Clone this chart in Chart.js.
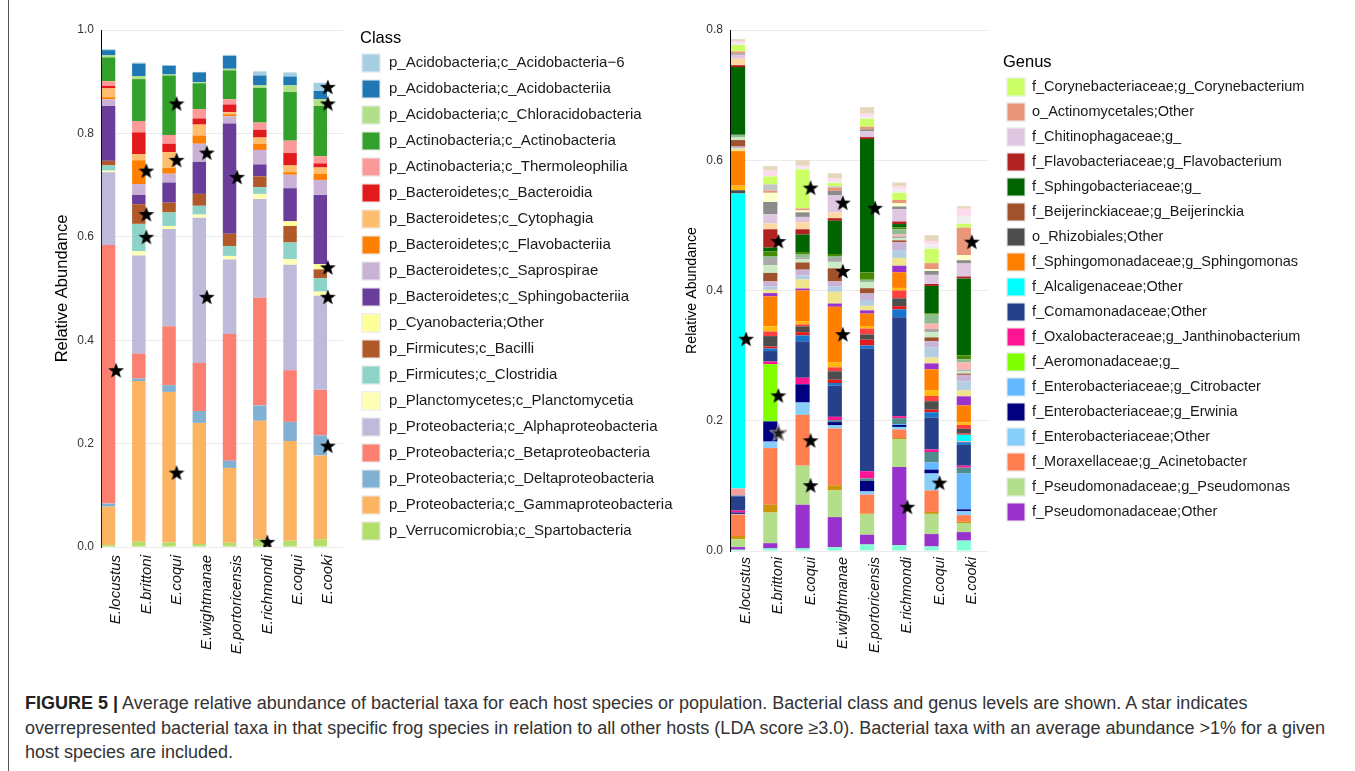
<!DOCTYPE html>
<html>
<head>
<meta charset="utf-8">
<script src="https://cdn.jsdelivr.net/npm/chart.js@4.4.1/dist/chart.umd.min.js"></script>
<style>
  html, body { margin: 0; padding: 0; background: #fff; }
  body { width: 1355px; height: 771px; position: relative; overflow: hidden;
         font-family: "Liberation Sans", Arial, Helvetica, sans-serif; }
  #classCanvas { position: absolute; left: 0; top: 0; }
  #genusCanvas { position: absolute; left: 670px; top: 0; }
  .frame-left { position: absolute; left: 8px; top: 0; width: 1px; height: 771px; background: #555; }
  .caption { position: absolute; left: 25px; top: 691px; font-size: 18px; line-height: 24.5px;
             color: #333; white-space: nowrap; }
  .caption b { color: #222; }
</style>
</head>
<body>
<div class="frame-left"></div>
<canvas id="classCanvas" width="690" height="660"></canvas>
<canvas id="genusCanvas" width="685" height="660"></canvas>
<div class="caption">
  <b>FIGURE 5 |</b> Average relative abundance of bacterial taxa for each host species or population. Bacterial class and genus levels are shown. A star indicates<br>
  overrepresented bacterial taxa in that specific frog species in relation to all other hosts (LDA score ≥3.0). Bacterial taxa with an average abundance &gt;1% for a given<br>
  host species are included.
</div>

<script>
// ---------- hosts ----------
const hosts = ['E.locustus', 'E.brittoni', 'E.coqui', 'E.wightmanae', 'E.portoricensis', 'E.richmondi', 'E.coqui', 'E.cooki'];

// ---------- class level (stack order, bottom to top) ----------
const spartobacteria       = [0.004, 0.010, 0.009, 0.006, 0.008, 0.015, 0.012, 0.015];
const gammaproteobacteria  = [0.074, 0.311, 0.291, 0.234, 0.145, 0.229, 0.193, 0.162];
const deltaproteobacteria  = [0.006, 0.005, 0.013, 0.023, 0.014, 0.030, 0.037, 0.039];
const betaproteobacteria   = [0.500, 0.048, 0.114, 0.093, 0.245, 0.208, 0.100, 0.088];
const alphaproteobacteria  = [0.141, 0.190, 0.188, 0.281, 0.144, 0.191, 0.204, 0.182];
const planctomycetia       = [0.003, 0.008, 0.006, 0.006, 0.007, 0.010, 0.011, 0.008];
const clostridia           = [0.010, 0.053, 0.026, 0.017, 0.019, 0.013, 0.032, 0.026];
const bacilli              = [0.009, 0.038, 0.019, 0.023, 0.024, 0.021, 0.032, 0.017];
const cyanobacteriaOther   = [0.000, 0.000, 0.000, 0.000, 0.000, 0.000, 0.009, 0.010];
const sphingobacteriia     = [0.106, 0.018, 0.039, 0.062, 0.213, 0.023, 0.064, 0.134];
const saprospirae          = [0.013, 0.021, 0.017, 0.035, 0.014, 0.028, 0.026, 0.029];
const flavobacteriia       = [0.004, 0.046, 0.011, 0.016, 0.004, 0.012, 0.005, 0.012];
const cytophagia           = [0.017, 0.012, 0.031, 0.021, 0.004, 0.012, 0.013, 0.012];
const bacteroidia          = [0.005, 0.042, 0.016, 0.012, 0.015, 0.015, 0.024, 0.008];
const thermoleophilia      = [0.009, 0.022, 0.017, 0.018, 0.010, 0.014, 0.024, 0.014];
const actinobacteria       = [0.046, 0.081, 0.115, 0.050, 0.056, 0.067, 0.094, 0.097];
const chloracidobacteria   = [0.004, 0.006, 0.002, 0.002, 0.003, 0.005, 0.013, 0.013];
const acidobacteriia       = [0.010, 0.024, 0.017, 0.019, 0.025, 0.019, 0.017, 0.016];
const acidobacteria6       = [0.002, 0.002, 0.001, 0.001, 0.002, 0.008, 0.008, 0.016];

const classNames = [
  'p_Verrucomicrobia;c_Spartobacteria',
  'p_Proteobacteria;c_Gammaproteobacteria',
  'p_Proteobacteria;c_Deltaproteobacteria',
  'p_Proteobacteria;c_Betaproteobacteria',
  'p_Proteobacteria;c_Alphaproteobacteria',
  'p_Planctomycetes;c_Planctomycetia',
  'p_Firmicutes;c_Clostridia',
  'p_Firmicutes;c_Bacilli',
  'p_Cyanobacteria;Other',
  'p_Bacteroidetes;c_Sphingobacteriia',
  'p_Bacteroidetes;c_Saprospirae',
  'p_Bacteroidetes;c_Flavobacteriia',
  'p_Bacteroidetes;c_Cytophagia',
  'p_Bacteroidetes;c_Bacteroidia',
  'p_Actinobacteria;c_Thermoleophilia',
  'p_Actinobacteria;c_Actinobacteria',
  'p_Acidobacteria;c_Chloracidobacteria',
  'p_Acidobacteria;c_Acidobacteriia',
  'p_Acidobacteria;c_Acidobacteria\u22126'
];
const classValues = [spartobacteria, gammaproteobacteria, deltaproteobacteria, betaproteobacteria,
  alphaproteobacteria, planctomycetia, clostridia, bacilli, cyanobacteriaOther, sphingobacteriia,
  saprospirae, flavobacteriia, cytophagia, bacteroidia, thermoleophilia, actinobacteria,
  chloracidobacteria, acidobacteriia, acidobacteria6];
const classColors = ['#b3de69', '#fdb462', '#80b1d3', '#fb8072', '#bebada', '#ffffb3', '#8dd3c7',
  '#b15928', '#ffff99', '#6a3d9a', '#cab2d6', '#ff7f00', '#fdbf6f', '#e31a1c', '#fb9a99',
  '#33a02c', '#b2df8a', '#1f78b4', '#a6cee3'];

// LDA-enriched class markers (host index, relative abundance)
const classStarHost = [0, 1, 1, 1, 2, 2, 2, 3, 3, 4, 5, 7, 7, 7, 7, 7];
const classStarY    = [0.342, 0.728, 0.644, 0.600, 0.858, 0.749, 0.144, 0.763, 0.484, 0.716, 0.010,
                       0.890, 0.858, 0.541, 0.484, 0.196];

// ---------- genus level (stack order, bottom to top) ----------
const taxonAqua          = [0.002, 0.004, 0.004, 0.006, 0.010, 0.009, 0.007, 0.016];
const pseudomonadOther   = [0.004, 0.008, 0.067, 0.046, 0.015, 0.120, 0.019, 0.013];
const pseudomonas        = [0.012, 0.047, 0.060, 0.041, 0.031, 0.043, 0.031, 0.014];
const taxonGoldenrod     = [0.005, 0.012, 0.000, 0.008, 0.0015, 0.0015, 0.003, 0.002];
const acinetobacter      = [0.033, 0.087, 0.078, 0.087, 0.029, 0.013, 0.033, 0.010];
const enteroOther        = [0.001, 0.010, 0.019, 0.005, 0.005, 0.004, 0.026, 0.006];
const erwinia            = [0.002, 0.031, 0.028, 0.005, 0.016, 0.003, 0.006, 0.003];
const citrobacter        = [0.000, 0.000, 0.000, 0.000, 0.000, 0.0015, 0.011, 0.055];
const aeromonadaceae     = [0.000, 0.088, 0.000, 0.000, 0.000, 0.000, 0.000, 0.000];
const taxonTeal          = [0.000, 0.000, 0.000, 0.003, 0.004, 0.009, 0.016, 0.009];
const janthinobacterium  = [0.003, 0.004, 0.010, 0.005, 0.011, 0.003, 0.004, 0.003];
const comamonadOther     = [0.022, 0.016, 0.056, 0.048, 0.188, 0.152, 0.049, 0.032];
const taxonBlue          = [0.001, 0.004, 0.009, 0.004, 0.005, 0.012, 0.008, 0.004];
const taxonRose          = [0.011, 0.000, 0.000, 0.000, 0.000, 0.000, 0.000, 0.0015];
const alcaligenOther     = [0.453, 0.000, 0.000, 0.000, 0.000, 0.000, 0.000, 0.010];
const taxonCrimson       = [0.000, 0.003, 0.005, 0.005, 0.009, 0.005, 0.004, 0.002];
const rhizobialesOther   = [0.005, 0.016, 0.009, 0.013, 0.008, 0.012, 0.013, 0.007];
const taxonRed           = [0.000, 0.007, 0.003, 0.006, 0.009, 0.012, 0.008, 0.006];
const taxonAmber         = [0.007, 0.008, 0.005, 0.008, 0.004, 0.004, 0.009, 0.004];
const sphingomonas       = [0.053, 0.046, 0.047, 0.085, 0.019, 0.024, 0.032, 0.026];
const taxonViolet        = [0.000, 0.005, 0.003, 0.005, 0.005, 0.010, 0.009, 0.014];
const taxonKhaki         = [0.004, 0.005, 0.014, 0.018, 0.007, 0.012, 0.009, 0.009];
const taxonSteel         = [0.000, 0.005, 0.006, 0.008, 0.009, 0.012, 0.016, 0.014];
const taxonLilac         = [0.003, 0.008, 0.009, 0.008, 0.010, 0.012, 0.009, 0.010];
const beijerinckia       = [0.010, 0.013, 0.011, 0.020, 0.008, 0.003, 0.006, 0.002];
const taxonMint          = [0.004, 0.012, 0.005, 0.010, 0.009, 0.003, 0.008, 0.004];
const taxonSilver        = [0.000, 0.011, 0.003, 0.006, 0.000, 0.003, 0.005, 0.002];
const taxonBlush         = [0.000, 0.000, 0.000, 0.000, 0.000, 0.003, 0.008, 0.011];
const taxonSage          = [0.004, 0.003, 0.005, 0.003, 0.004, 0.008, 0.014, 0.005];
const taxonOlive         = [0.000, 0.007, 0.003, 0.003, 0.011, 0.003, 0.002, 0.006];
const sphingobacteriaceae= [0.104, 0.006, 0.027, 0.051, 0.205, 0.005, 0.042, 0.118];
const flavobacterium     = [0.003, 0.028, 0.008, 0.004, 0.003, 0.004, 0.003, 0.003];
const taxonPeach         = [0.010, 0.009, 0.011, 0.009, 0.000, 0.000, 0.000, 0.000];
const chitinophagaceae   = [0.006, 0.014, 0.008, 0.026, 0.009, 0.019, 0.014, 0.020];
const taxonGrey          = [0.002, 0.019, 0.007, 0.007, 0.003, 0.004, 0.006, 0.005];
const taxonCream         = [0.000, 0.014, 0.003, 0.000, 0.000, 0.005, 0.003, 0.008];
const actinomycetales    = [0.003, 0.003, 0.003, 0.005, 0.004, 0.005, 0.009, 0.042];
const taxonAsh           = [0.000, 0.010, 0.000, 0.002, 0.000, 0.000, 0.000, 0.000];
const corynebacterium    = [0.010, 0.012, 0.060, 0.005, 0.012, 0.011, 0.022, 0.006];
const taxonSnow          = [0.002, 0.000, 0.003, 0.003, 0.004, 0.006, 0.007, 0.012];
const taxonPink          = [0.004, 0.009, 0.003, 0.004, 0.004, 0.004, 0.005, 0.011];
const taxonTan           = [0.003, 0.007, 0.008, 0.008, 0.010, 0.006, 0.009, 0.004];

const genusNames = [
  '', 'f_Pseudomonadaceae;Other', 'f_Pseudomonadaceae;g_Pseudomonas', '',
  'f_Moraxellaceae;g_Acinetobacter', 'f_Enterobacteriaceae;Other', 'f_Enterobacteriaceae;g_Erwinia',
  'f_Enterobacteriaceae;g_Citrobacter', 'f_Aeromonadaceae;g_', '',
  'f_Oxalobacteraceae;g_Janthinobacterium', 'f_Comamonadaceae;Other', '', '',
  'f_Alcaligenaceae;Other', '', 'o_Rhizobiales;Other', '', '',
  'f_Sphingomonadaceae;g_Sphingomonas', '', '', '', '',
  'f_Beijerinckiaceae;g_Beijerinckia', '', '', '', '', '',
  'f_Sphingobacteriaceae;g_', 'f_Flavobacteriaceae;g_Flavobacterium', '',
  'f_Chitinophagaceae;g_', '', '', 'o_Actinomycetales;Other', '',
  'f_Corynebacteriaceae;g_Corynebacterium', '', '', ''
];
const genusValues = [taxonAqua, pseudomonadOther, pseudomonas, taxonGoldenrod, acinetobacter,
  enteroOther, erwinia, citrobacter, aeromonadaceae, taxonTeal, janthinobacterium, comamonadOther,
  taxonBlue, taxonRose, alcaligenOther, taxonCrimson, rhizobialesOther, taxonRed, taxonAmber,
  sphingomonas, taxonViolet, taxonKhaki, taxonSteel, taxonLilac, beijerinckia, taxonMint,
  taxonSilver, taxonBlush, taxonSage, taxonOlive, sphingobacteriaceae, flavobacterium, taxonPeach,
  chitinophagaceae, taxonGrey, taxonCream, actinomycetales, taxonAsh, corynebacterium, taxonSnow,
  taxonPink, taxonTan];
const genusColors = ['#7fffd4', '#9932cc', '#b3df8c', '#cd950c', '#ff7f50', '#87cefa', '#000080',
  '#63b8ff', '#7fff00', '#528b8b', '#ff1493', '#27408b', '#1874cd', '#f4a09c', '#00ffff',
  '#e31a1c', '#4d4d4d', '#ff4040', '#ffb90f', '#ff7f00', '#9a32cd', '#eee58c', '#b3cde3',
  '#c9b3d6', '#a0522d', '#ccebc5', '#a9a9a9', '#fbb4ae', '#8fbc8f', '#458b00', '#006400',
  '#b22222', '#fdd9a6', '#dfc6e1', '#8c8c8c', '#ffffcc', '#e9967a', '#c4c4c4', '#ccff66',
  '#efefef', '#fddaec', '#e5d8bd'];

const genusLegendOrder = [
  'f_Corynebacteriaceae;g_Corynebacterium', 'o_Actinomycetales;Other', 'f_Chitinophagaceae;g_',
  'f_Flavobacteriaceae;g_Flavobacterium', 'f_Sphingobacteriaceae;g_', 'f_Beijerinckiaceae;g_Beijerinckia',
  'o_Rhizobiales;Other', 'f_Sphingomonadaceae;g_Sphingomonas', 'f_Alcaligenaceae;Other',
  'f_Comamonadaceae;Other', 'f_Oxalobacteraceae;g_Janthinobacterium', 'f_Aeromonadaceae;g_',
  'f_Enterobacteriaceae;g_Citrobacter', 'f_Enterobacteriaceae;g_Erwinia', 'f_Enterobacteriaceae;Other',
  'f_Moraxellaceae;g_Acinetobacter', 'f_Pseudomonadaceae;g_Pseudomonas', 'f_Pseudomonadaceae;Other'
];

// LDA-enriched genus markers (host index, relative abundance)
const genusStarHost = [0, 1, 1, 2, 2, 2, 3, 3, 3, 4, 5, 6, 7];
const genusStarY    = [0.326, 0.476, 0.239, 0.558, 0.170, 0.101, 0.535, 0.430, 0.333, 0.527, 0.068, 0.105, 0.475];
const genusGreyStarHost = [1];
const genusGreyStarY    = [0.182];

// ---------- drawing helpers ----------
const FONT = '"Liberation Sans", Arial, Helvetica, sans-serif';
Chart.defaults.font.family = FONT;
Chart.defaults.color = '#333';

function starImage(fill, stroke) {
  const c = document.createElement('canvas');
  c.width = 18; c.height = 18;
  const g = c.getContext('2d');
  g.beginPath();
  for (let i = 0; i < 10; i++) {
    const r = i % 2 ? 3.4 : 8.4;
    const a = -Math.PI / 2 + i * Math.PI / 5;
    g.lineTo(9 + r * Math.cos(a), 9.8 + r * Math.sin(a));
  }
  g.closePath();
  g.fillStyle = fill;
  g.fill();
  if (stroke) { g.strokeStyle = stroke; g.lineWidth = 1.3; g.stroke(); }
  return c;
}
const blackStar = starImage('#000');
const greyStar = starImage('#1a1a1a', '#8a8a8a');

function starPoints(hostIdx, ys) {
  return hostIdx.map((h, i) => ({ x: h, y: ys[i] }));
}

// markers live on hidden linear axes that share the bar chart's area
function starDataset(points, img) {
  return {
    type: 'scatter', label: '', data: points, xAxisID: 'xm', yAxisID: 'ym', order: -1,
    pointStyle: img, pointRadius: 9, pointHoverRadius: 9, showLine: false
  };
}

// key box legend drawn inside the canvas
const keyLegend = {
  id: 'keyLegend',
  afterDraw(chart, args, o) {
    const ctx = chart.ctx;
    ctx.save();
    ctx.textBaseline = 'middle';
    ctx.textAlign = 'left';
    ctx.fillStyle = '#000';
    ctx.font = o.titleSize + 'px ' + FONT;
    ctx.fillText(o.title, o.titleX, o.titleY);
    ctx.font = o.textSize + 'px ' + FONT;
    o.items.forEach((name, i) => {
      const ds = chart.data.datasets.find(d => d.label === name);
      const y = o.y0 + i * o.step;
      ctx.fillStyle = '#f0f0f0';
      ctx.fillRect(o.boxX - 1, y - 10, 20, 20);
      ctx.fillStyle = ds.backgroundColor;
      ctx.fillRect(o.boxX + 0.5, y - 8.5, 17, 17);
      ctx.fillStyle = '#1a1a1a';
      ctx.fillText(name, o.textX, y);
    });
    ctx.restore();
  }
};

function axes(c) {
  return {
    x: {
      stacked: true,
      grid: { display: false, drawTicks: false },
      border: { display: false },
      ticks: {
        autoSkip: false, minRotation: 90, maxRotation: 90, padding: c.labelPad,
        color: '#111', font: { size: c.labelSize, style: 'italic' }
      },
      afterFit(s) { s.height = c.xHeight; }
    },
    y: {
      stacked: true, min: 0, max: c.yMax,
      grid: { color: '#ebebeb', lineWidth: 1, drawTicks: false },
      border: { display: true, color: '#000', width: 1 },
      ticks: { stepSize: 0.2, padding: 7, color: '#333', font: { size: 12 },
               callback: v => v.toFixed(1) },
      title: { display: true, text: 'Relative Abundance', color: '#000',
               font: { size: c.titleSize }, padding: { top: 0, bottom: 0 } },
      afterFit(s) { s.width = c.yWidth; }
    },
    xm: { type: 'linear', display: false, offset: false, grid: { offset: false },
          min: -0.5, max: hosts.length - 0.5 },
    ym: { type: 'linear', display: false, offset: false, min: 0, max: c.yMax, stacked: false }
  };
}

function baseOptions(c, legendOpts) {
  return {
    responsive: false, animation: false, events: [],
    layout: { padding: c.padding },
    scales: axes(c),
    plugins: { legend: { display: false }, tooltip: { enabled: false }, keyLegend: legendOpts }
  };
}

// ---------- class chart ----------
const classDatasets = classNames.map((name, i) => ({
  label: name, data: classValues[i], backgroundColor: classColors[i],
  barPercentage: 0.89, categoryPercentage: 1.0, borderWidth: 0
}));
classDatasets.push(starDataset(starPoints(classStarHost, classStarY), blackStar));

new Chart(document.getElementById('classCanvas'), {
  type: 'bar',
  data: { labels: hosts, datasets: classDatasets },
  options: baseOptions({
    yMax: 1.0, yWidth: 48, xHeight: 113, labelPad: 8, labelSize: 15, titleSize: 16.5,
    padding: { left: 53, top: 30, right: 347, bottom: 0 }
  }, {
    title: 'Class', titleX: 360, titleY: 38, titleSize: 16.5, textSize: 15,
    items: classNames.slice().reverse(),
    boxX: 362, textX: 389, y0: 63, step: 26
  }),
  plugins: [keyLegend]
});

// ---------- genus chart ----------
const genusDatasets = genusNames.map((name, i) => ({
  label: name, data: genusValues[i], backgroundColor: genusColors[i],
  barPercentage: 0.88, categoryPercentage: 1.0, borderWidth: 0
}));
genusDatasets.push(starDataset(starPoints(genusStarHost, genusStarY), blackStar));
genusDatasets.push(starDataset(starPoints(genusGreyStarHost, genusGreyStarY), greyStar));

new Chart(document.getElementById('genusCanvas'), {
  type: 'bar',
  data: { labels: hosts, datasets: genusDatasets },
  options: baseOptions({
    yMax: 0.8, yWidth: 46, xHeight: 109, labelPad: 6, labelSize: 14.5, titleSize: 14.2,
    padding: { left: 14, top: 30, right: 367, bottom: 0 }
  }, {
    title: 'Genus', titleX: 333, titleY: 62, titleSize: 16.5, textSize: 14.5,
    items: genusLegendOrder,
    boxX: 337, textX: 362, y0: 87, step: 25
  }),
  plugins: [keyLegend]
});
</script>
</body>
</html>
